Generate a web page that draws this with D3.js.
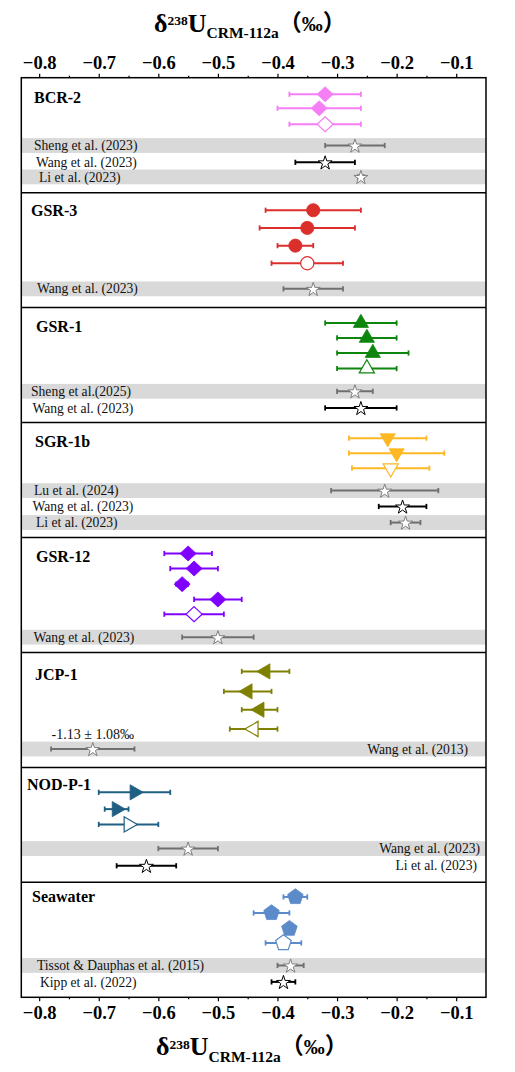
<!DOCTYPE html>
<html><head><meta charset="utf-8">
<script src="https://cdn.jsdelivr.net/npm/d3@7"></script>
<style>body{margin:0;background:#fff} svg{display:block}</style>
</head><body>
<svg id="chart" width="515" height="1072"></svg>
<script>
// ================= DATA =================
const panelNames = ["BCR-2", "GSR-3", "GSR-1", "SGR-1b", "GSR-12", "JCP-1", "NOD-P-1", "Seawater"];

// this study: mean δ238U and 2SD per measurement (last one of each panel = average, open symbol)
const sampleMeans = [
  [-0.32, -0.33, -0.32],
  [-0.34, -0.35, -0.37, -0.35],
  [-0.26, -0.25, -0.24, -0.25],
  [-0.215, -0.20, -0.21],
  [-0.55, -0.54, -0.56, -0.50, -0.54],
  [-0.42, -0.45, -0.43, -0.44],
  [-0.64, -0.67, -0.65],
  [-0.37, -0.41, -0.38, -0.39]
];
const sampleErrs = [
  [0.06, 0.07, 0.06],
  [0.08, 0.08, 0.03, 0.06],
  [0.06, 0.05, 0.06, 0.05],
  [0.065, 0.08, 0.065],
  [0.04, 0.04, 0.01, 0.04, 0.05],
  [0.04, 0.04, 0.03, 0.04],
  [0.06, 0.02, 0.05],
  [0.02, 0.03, 0.005, 0.03]
];
// vertical row position of each measurement inside its panel (0 = top, 1 = bottom)
const sampleRows = [
  [0.144, 0.266, 0.405],
  [0.153, 0.307, 0.461, 0.614],
  [0.134, 0.264, 0.395, 0.530],
  [0.136, 0.266, 0.397],
  [0.139, 0.270, 0.406, 0.539, 0.667],
  [0.165, 0.339, 0.498, 0.666],
  [0.217, 0.363, 0.496],
  [0.127, 0.266, 0.403, 0.527]
];

// literature values
const refLabels = [
  ["Sheng et al. (2023)", "Wang et al. (2023)", "Li et al. (2023)"],
  ["Wang et al. (2023)"],
  ["Sheng et al.(2025)", "Wang et al. (2023)"],
  ["Lu et al. (2024)", "Wang et al. (2023)", "Li et al. (2023)"],
  ["Wang et al. (2023)"],
  ["Wang et al. (2013)"],
  ["Wang et al. (2023)", "Li et al. (2023)"],
  ["Tissot & Dauphas et al. (2015)", "Kipp et al. (2022)"]
];
const refMeans = [
  [-0.27, -0.32, -0.26],
  [-0.34],
  [-0.27, -0.26],
  [-0.22, -0.19, -0.185],
  [-0.50],
  [-0.71],
  [-0.55, -0.62],
  [-0.378, -0.39]
];
const refErrs = [
  [0.05, 0.05, 0.005],
  [0.05],
  [0.03, 0.06],
  [0.09, 0.04, 0.025],
  [0.06],
  [0.07],
  [0.05, 0.05],
  [0.022, 0.02]
];
const refRows = [
  [0.590, 0.736, 0.863],
  [0.837],
  [0.728, 0.873],
  [0.592, 0.730, 0.870],
  [0.867],
  [0.840],
  [0.706, 0.856],
  [0.723, 0.866]
];
const refShaded = [
  [true, false, true],
  [true],
  [true, false],
  [true, false, true],
  [true],
  [true],
  [true, false],
  [true, false]
];
// off-scale literature value written next to the JCP-1 reference point
const jcpTrueValue = "-1.13 ± 1.08‰";

const xTicks = [-0.8, -0.7, -0.6, -0.5, -0.4, -0.3, -0.2, -0.1];
const xMinorTicks = [-0.75, -0.65, -0.55, -0.45, -0.35, -0.25, -0.15];
const xDomain = [-0.83, -0.05];

// ================= STYLE / LAYOUT =================
const panelColors = ["#F57EF5", "#DB2F2B", "#0E860E", "#FDB824", "#7F00FF", "#808000", "#1F5F84", "#5B8BC9"];
const panelSymbols = ["diamond", "circle", "triUp", "triDown", "diamond", "triLeft", "triRight", "pentagon"];
const panelLabelX = [34, 31, 36, 35, 36, 35, 27, 32];
const panelLabelDy = [25.5, 23.5, 24, 24, 24, 27.5, 23, 20];
const refLabelX = [[34, 36, 39], [37], [31, 32.5], [34, 32.5, 36], [33.5], [468], [480, 477], [37, 40]];
const refLabelAnchor = ["start", "start", "start", "start", "start", "end", "end", "start"];

const W = 515, H = 1072;
const frame = {left: 21.3, right: 486, top: 77.7, bottom: 997.3};
const nP = panelNames.length;
const panelH = (frame.bottom - frame.top) / nP;
const serif = "'Liberation Serif','Times New Roman',serif";

const svg = d3.select("#chart");
const x = d3.scaleLinear().domain(xDomain).range([frame.left, frame.right]);
const yPanel = i => d3.scaleLinear().domain([0, 1]).range([frame.top + i * panelH, frame.top + (i + 1) * panelH]);

// custom symbol types
const symDiamond = {draw(c, s) { const a = Math.sqrt(s) / 2; c.moveTo(0, -a); c.lineTo(a * 1.07, 0); c.lineTo(0, a); c.lineTo(-a * 1.07, 0); c.closePath(); }};
const symPentagon = {draw(c, s) { const r = Math.sqrt(s); for (let k = 0; k < 5; k++) { const ang = -Math.PI / 2 + k * 2 * Math.PI / 5; const px = r * Math.cos(ang), py = r * Math.sin(ang); k ? c.lineTo(px, py) : c.moveTo(px, py); } c.closePath(); }};
const symbolDef = {
  diamond: {type: symDiamond, size: 15 * 15, rot: 0},
  circle: {type: d3.symbolCircle, size: Math.PI * 6.6 * 6.6, rot: 0},
  triUp: {type: d3.symbolTriangle, size: 100, rot: 0},
  triDown: {type: d3.symbolTriangle, size: 100, rot: 180},
  triLeft: {type: d3.symbolTriangle, size: 100, rot: -90},
  triRight: {type: d3.symbolTriangle, size: 100, rot: 90},
  pentagon: {type: symPentagon, size: 8.2 * 8.2, rot: 0}
};

// ---------- shaded bands ----------
panelNames.forEach((name, i) => {
  const y = yPanel(i);
  refRows[i].forEach((r, j) => {
    if (!refShaded[i][j]) return;
    svg.append("rect")
      .attr("x", frame.left).attr("width", frame.right - frame.left)
      .attr("y", y(r) - 7.4).attr("height", 14.8)
      .attr("fill", "#D9D9D9");
  });
});

// ---------- frame & panel separators ----------
svg.append("rect")
  .attr("x", frame.left).attr("y", frame.top)
  .attr("width", frame.right - frame.left).attr("height", frame.bottom - frame.top)
  .attr("fill", "none").attr("stroke", "#000").attr("stroke-width", 1.5);
d3.range(1, nP).forEach(i => {
  const yy = yPanel(i)(0);
  svg.append("line").attr("x1", frame.left).attr("x2", frame.right)
    .attr("y1", yy).attr("y2", yy).attr("stroke", "#000").attr("stroke-width", 1.5);
});

function errBar(g, m, e, yy, color, width) {
  g.append("line").attr("x1", x(m - e)).attr("x2", x(m + e)).attr("y1", yy).attr("y2", yy)
    .attr("stroke", color).attr("stroke-width", width);
  [m - e, m + e].forEach(v => {
    g.append("line").attr("x1", x(v)).attr("x2", x(v)).attr("y1", yy - 2.6).attr("y2", yy + 2.6)
      .attr("stroke", color).attr("stroke-width", 1.8);
  });
}

const starGen = d3.symbol().type(d3.symbolStar).size(60);

panelNames.forEach((name, i) => {
  const y = yPanel(i);
  const g = svg.append("g");
  const col = panelColors[i];
  const sd = symbolDef[panelSymbols[i]];
  const gen = d3.symbol().type(sd.type).size(sd.size);
  const n = sampleMeans[i].length;

  // panel label
  g.append("text").attr("x", panelLabelX[i]).attr("y", y(0) + panelLabelDy[i])
    .attr("font-family", serif).attr("font-weight", "bold").attr("font-size", 16)
    .text(name);

  // samples
  sampleMeans[i].forEach((m, j) => {
    const yy = y(sampleRows[i][j]);
    errBar(g, m, sampleErrs[i][j], yy, col, 2);
  });
  sampleMeans[i].forEach((m, j) => {
    const yy = y(sampleRows[i][j]);
    const open = j === n - 1;
    g.append("path").attr("d", gen())
      .attr("transform", `translate(${x(m)},${yy}) rotate(${sd.rot})`)
      .attr("fill", open ? "#fff" : col)
      .attr("stroke", col).attr("stroke-width", open ? 1.2 : 0.8);
  });

  // literature
  refMeans[i].forEach((m, j) => {
    const yy = y(refRows[i][j]);
    const shaded = refShaded[i][j];
    const c = shaded ? "#6F6F6F" : "#000";
    errBar(g, m, refErrs[i][j], yy, c, 2);
    g.append("path").attr("d", starGen())
      .attr("transform", `translate(${x(m)},${yy + 0.8})`)
      .attr("fill", "#fff").attr("stroke", shaded ? "#7F7F7F" : "#000").attr("stroke-width", 1);
    g.append("text").attr("x", refLabelX[i][j]).attr("y", yy).attr("dy", "0.34em")
      .attr("text-anchor", refLabelAnchor[i])
      .attr("font-family", serif).attr("font-size", 13.6).attr("fill", "#111")
      .text(refLabels[i][j]);
  });

  if (name === "JCP-1") {
    const m = refMeans[i][0], e = refErrs[i][0];
    g.append("text").attr("x", x(m - e) + 0.5).attr("y", y(refRows[i][0]) - 10)
      .attr("font-family", serif).attr("font-size", 14).attr("fill", "#111")
      .text(jcpTrueValue);
  }
});

// ---------- axes ----------
function styleAxis(g) {
  g.select(".domain").remove();
  g.selectAll("line").attr("stroke", "#000").attr("stroke-width", 1.2);
  g.selectAll("text").attr("font-family", serif).attr("font-weight", "bold")
    .attr("font-size", 18.5).attr("fill", "#000");
}
const fmt = d3.format(".1f");
svg.append("g").attr("transform", `translate(0,${frame.top})`)
  .call(d3.axisTop(x).tickValues(xTicks).tickSize(4).tickPadding(5).tickFormat(fmt)).call(styleAxis);
svg.append("g").attr("transform", `translate(0,${frame.top})`)
  .call(d3.axisTop(x).tickValues(xMinorTicks).tickSize(2).tickFormat("")).call(styleAxis);
svg.append("g").attr("transform", `translate(0,${frame.bottom})`)
  .call(d3.axisBottom(x).tickValues(xTicks).tickSize(4).tickPadding(5).tickFormat(fmt)).call(styleAxis);
svg.append("g").attr("transform", `translate(0,${frame.bottom})`)
  .call(d3.axisBottom(x).tickValues(xMinorTicks).tickSize(2).tickFormat("")).call(styleAxis);

// ---------- axis titles ----------
function axisTitle(xStart, baseline) {
  const cjk = "'Noto Sans CJK SC','Liberation Serif',serif";
  const t = svg.append("text").attr("x", xStart).attr("y", baseline)
    .attr("font-family", serif).attr("font-weight", "bold").attr("font-size", 26);
  t.append("tspan").text("δ");
  t.append("tspan").attr("font-size", 13.5).attr("dy", -6.5).text("238");
  t.append("tspan").attr("font-size", 26).attr("dy", 6.5).text("U");
  t.append("tspan").attr("font-size", 15.5).attr("dy", 6.5).text("CRM-112a");
  t.append("tspan").attr("font-size", 23).attr("dy", -7.5).attr("font-family", cjk).text("（");
  t.append("tspan").attr("font-size", 21).attr("font-family", serif).text("‰");
  t.append("tspan").attr("font-size", 23).attr("font-family", cjk).text("）");
}
axisTitle(154, 31.7);
axisTitle(156, 1055);
</script>
</body></html>
